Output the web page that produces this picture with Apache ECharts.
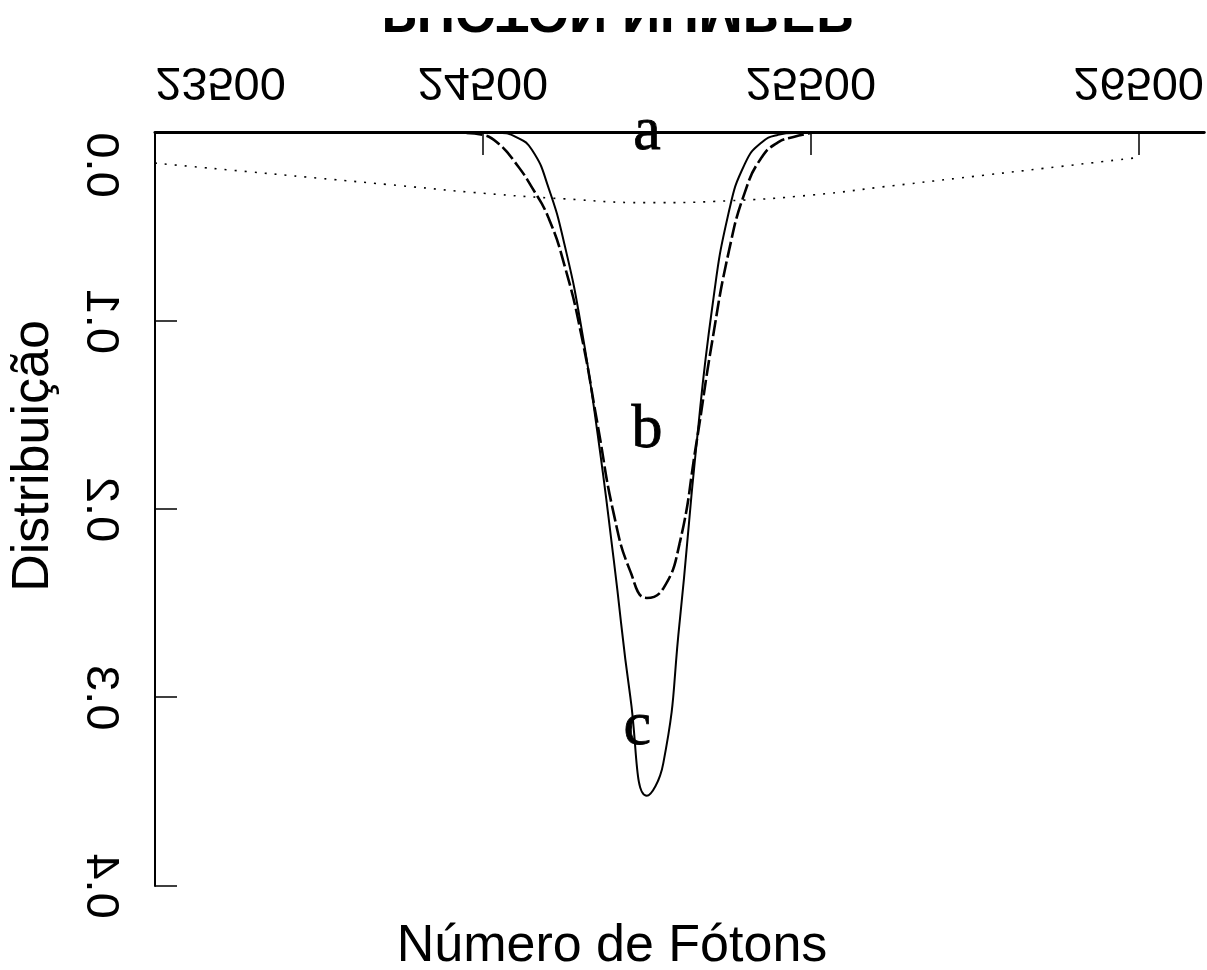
<!DOCTYPE html>
<html>
<head>
<meta charset="utf-8">
<script src="https://cdn.jsdelivr.net/npm/echarts@6/dist/echarts.min.js"></script>
<style>
  html, body { margin: 0; padding: 0; background: #fff; }
  #stage { position: relative; width: 1207px; height: 970px; overflow: hidden; background: #fff; }
  /* the plotted panel is mirrored top-to-bottom */
  #plot { position: absolute; left: 0; top: 18px; width: 1207px; height: 952px; transform: scaleY(-1); }
  #notes { position: absolute; left: 0; top: 0; width: 1207px; height: 970px; pointer-events: none; }
</style>
</head>
<body>
<div id="stage">
  <div id="plot"></div>
  <div id="notes"></div>
</div>
<script>
// ---- axis ticks ----
const photonTicks = [23500, 24500, 25500, 26500];
const distTicks = [0, 0.1, 0.2, 0.3, 0.4];

// ---- curve a (dotted, broad) ----
const photonsA = [23500, 23750, 24000, 24250, 24500, 24750, 25000, 25250, 25500, 25750, 26000, 26250, 26500];
const distA    = [0.016, 0.020, 0.024, 0.028, 0.032, 0.035, 0.037, 0.036, 0.033, 0.028, 0.023, 0.018, 0.013];

// ---- curve b (dashed) ----
const photonsB = [24450, 24500, 24550, 24600, 24650, 24700, 24750, 24800, 24850, 24900, 24950, 25000,
                  25050, 25100, 25150, 25200, 25250, 25300, 25350, 25400, 25450, 25500];
const distB    = [0.000, 0.001, 0.006, 0.016, 0.029, 0.045, 0.071, 0.107, 0.155, 0.203, 0.233, 0.247,
                  0.242, 0.218, 0.166, 0.110, 0.063, 0.031, 0.013, 0.005, 0.002, 0.000];

// ---- curve c (solid, narrow) ----
const photonsC = [24450, 24500, 24550, 24600, 24650, 24700, 24750, 24800, 24850, 24900, 24950, 25000,
                  25050, 25100, 25150, 25200, 25250, 25300, 25350, 25400, 25450];
const distC    = [0.000, 0.000, 0.000, 0.002, 0.009, 0.029, 0.060, 0.103, 0.160, 0.228, 0.300, 0.352,
                  0.335, 0.260, 0.168, 0.092, 0.042, 0.016, 0.005, 0.001, 0.000];

// ---- curve tags ----
const tagNames   = ['a', 'b', 'c'];
const tagPhotons = [25000, 25000, 24970];
const tagDist    = [0.000, 0.158, 0.316];

const pairs = (xs, ys) => xs.map((x, i) => [x, ys[i]]);

const X_MIN = 23500, X_MAX = 26700, Y_MIN = 0, Y_MAX = 0.4;
const GRID_LEFT = 155, GRID_RIGHT = 2.4;

const tickFont = '"Liberation Sans", Arial, sans-serif';
const tickSize = 47;

// ---------- mirrored panel ----------
const plot = echarts.init(document.getElementById('plot'), null, { renderer: 'canvas' });
plot.setOption({
  animation: false,
  backgroundColor: 'transparent',
  grid: { left: GRID_LEFT, right: GRID_RIGHT, top: 84, bottom: 115, containLabel: false },
  xAxis: {
    type: 'value', min: X_MIN, max: X_MAX,
    axisLine: { show: true, lineStyle: { color: '#000', width: 3 } },
    axisTick: { show: true, inside: true, length: 22, customValues: photonTicks,
                lineStyle: { color: '#000', width: 1.5 } },
    axisLabel: {
      show: true, customValues: photonTicks, margin: 29,
      color: '#000', fontSize: tickSize, fontFamily: tickFont,
      formatter: v => (v === photonTicks[0] ? '{first|' + v + '}' : String(v)),
      rich: { first: { padding: [0, 0, 0, 131], fontSize: tickSize, fontFamily: tickFont, color: '#000' } }
    },
    splitLine: { show: false }
  },
  yAxis: {
    type: 'value', min: Y_MIN, max: Y_MAX,
    axisLine: { show: true, lineStyle: { color: '#000', width: 2 } },
    axisTick: { show: true, inside: true, length: 22, customValues: distTicks,
                lineStyle: { color: '#000', width: 1.5 } },
    axisLabel: {
      show: true, customValues: distTicks, margin: 32, rotate: -90,
      color: '#000', fontSize: tickSize, fontFamily: tickFont,
      formatter: v => {
        const s = v.toFixed(1);
        return v === distTicks[0] ? '{first|' + s + '}' : s;
      },
      rich: { first: { padding: [0, 64, 0, 0], fontSize: tickSize, fontFamily: tickFont, color: '#000' } }
    },
    splitLine: { show: false }
  },
  series: [
    {
      name: 'a', type: 'line', data: pairs(photonsA, distA), showSymbol: false,
      smooth: 0.5,
      lineStyle: { color: '#000', width: 1.6, type: [2, 8] }
    },
    {
      name: 'b', type: 'line', data: pairs(photonsB, distB), showSymbol: false,
      smooth: 0.5,
      lineStyle: { color: '#000', width: 2.6, type: [16, 4] }
    },
    {
      name: 'c', type: 'line', data: pairs(photonsC, distC), showSymbol: false,
      smooth: 0.5,
      lineStyle: { color: '#000', width: 2 }
    }
  ],
  graphic: [{
    type: 'text', x: 618, y: 934, silent: true,
    style: {
      text: 'PHOTON NUMBER', fill: '#000',
      font: 'bold 53px "Liberation Sans", Arial, sans-serif',
      align: 'center', verticalAlign: 'top', textAlign: 'center', textVerticalAlign: 'top'
    }
  }]
});

// ---------- upright annotations and axis titles ----------
const notes = echarts.init(document.getElementById('notes'), null, { renderer: 'canvas' });
notes.setOption({
  animation: false,
  backgroundColor: 'transparent',
  grid: { left: GRID_LEFT, right: GRID_RIGHT, top: 133, bottom: 84, containLabel: false },
  xAxis: { type: 'value', min: X_MIN, max: X_MAX, show: false },
  yAxis: { type: 'value', min: Y_MIN, max: Y_MAX, inverse: true, show: false },
  series: [{
    type: 'scatter', clip: false, symbolSize: 0, silent: true,
    itemStyle: { opacity: 1, color: '#000' },
    data: tagNames.map((n, i) => ({ name: n, value: [tagPhotons[i], tagDist[i]] })),
    label: {
      show: true, position: 'inside', formatter: p => p.name, opacity: 1,
      color: '#000', textBorderColor: '#000', textBorderWidth: 0.8,
      fontSize: 62, fontFamily: '"Liberation Serif", "Times New Roman", serif'
    }
  }],
  graphic: [
    {
      type: 'text', x: 612, y: 947, silent: true,
      style: {
        text: 'Número de Fótons', fill: '#000',
        font: '52px "Liberation Sans", Arial, sans-serif',
        align: 'center', verticalAlign: 'middle', textAlign: 'center', textVerticalAlign: 'middle'
      }
    },
    {
      type: 'text', x: 34, y: 456, rotation: Math.PI / 2, silent: true,
      style: {
        text: 'Distribuição', fill: '#000',
        font: '52px "Liberation Sans", Arial, sans-serif',
        align: 'center', verticalAlign: 'middle', textAlign: 'center', textVerticalAlign: 'middle'
      }
    }
  ]
});
</script>
</body>
</html>
